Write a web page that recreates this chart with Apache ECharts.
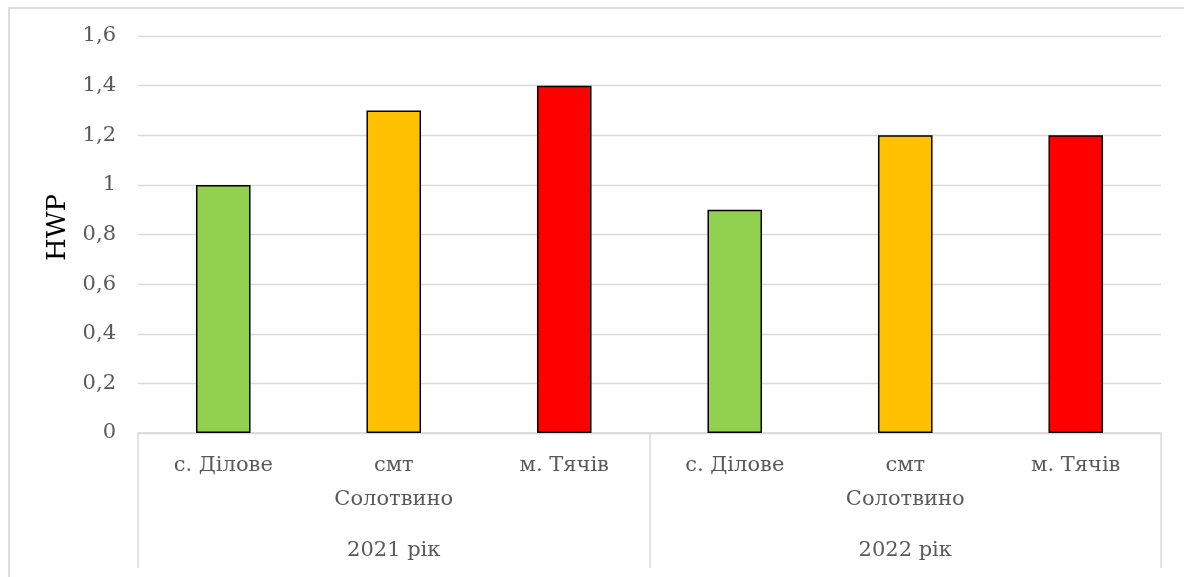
<!DOCTYPE html>
<html>
<head>
<meta charset="utf-8">
<script src="https://cdn.jsdelivr.net/npm/echarts@6/dist/echarts.min.js"></script>
<style>
  html, body { margin: 0; padding: 0; background: #fff; }
  #wrap { position: relative; width: 1184px; height: 577px; overflow: hidden; }
  #frame { position: absolute; left: 8px; top: 7px; width: 1200px; height: 620px; border: 2px solid #dcdcdc; box-sizing: border-box; }
  #chart { position: absolute; left: 0; top: 0; width: 1184px; height: 577px; }
</style>
</head>
<body>
<div id="wrap">
  <div id="frame"></div>
  <div id="chart"></div>
</div>
<script>
// ---- data ----
const categories = ['с. Ділове', 'смт\nСолотвино', 'м. Тячів', 'с. Ділове', 'смт\nСолотвино', 'м. Тячів'];
const groups = ['2021 рік', '2022 рік'];
const values = [1.0, 1.3, 1.4, 0.9, 1.2, 1.2];
const yTicks = { min: 0, max: 1.6, interval: 0.2 };
const yName = 'HWP';

// ---- styles ----
const barColors = ['#92D050', '#FFC000', '#FF0000', '#92D050', '#FFC000', '#FF0000'];
const FONT = 'DejaVu Serif';
const GRAY = '#595959';
const LINE = '#d9d9d9';

const chart = echarts.init(document.getElementById('chart'), null, { renderer: 'canvas' });
chart.setOption({
  animation: false,
  backgroundColor: 'transparent',
  grid: { left: 138, right: 23, top: 36, bottom: 144, containLabel: false },
  xAxis: [
    {
      type: 'category',
      data: categories,
      position: 'bottom',
      axisLine: { show: true, lineStyle: { color: LINE, width: 1.5 } },
      axisTick: { show: false },
      axisLabel: { interval: 0, margin: 16, fontFamily: FONT, fontSize: 21, lineHeight: 34, color: GRAY }
    },
    {
      type: 'category',
      data: groups,
      position: 'bottom',
      offset: 0,
      axisLine: { show: false },
      axisTick: { show: true, length: 135, interval: 0, lineStyle: { color: LINE, width: 1.5 } },
      axisLabel: { interval: 0, margin: 106, fontFamily: FONT, fontSize: 21, lineHeight: 24, color: GRAY },
      splitLine: { show: false }
    }
  ],
  yAxis: {
    type: 'value',
    min: yTicks.min,
    max: yTicks.max,
    interval: yTicks.interval,
    name: yName,
    nameLocation: 'middle',
    nameGap: 66,
    nameRotate: 90,
    nameTextStyle: { fontFamily: FONT, fontSize: 26, color: '#000', padding: [0, 0, 0, 14] },
    axisLine: { show: false },
    axisTick: { show: false },
    splitLine: { show: true, lineStyle: { color: LINE, width: 1.3 } },
    axisLabel: {
      margin: 22,
      fontFamily: FONT,
      fontSize: 21,
      color: GRAY,
      formatter: v => String(Math.round(v * 10) / 10).replace('.', ',')
    }
  },
  series: [{
    type: 'bar',
    xAxisIndex: 0,
    barWidth: '32%',
    data: values.map((v, i) => ({ value: v, itemStyle: { color: barColors[i] } })),
    itemStyle: { borderColor: '#000', borderWidth: 1.5 }
  }]
});
</script>
</body>
</html>
